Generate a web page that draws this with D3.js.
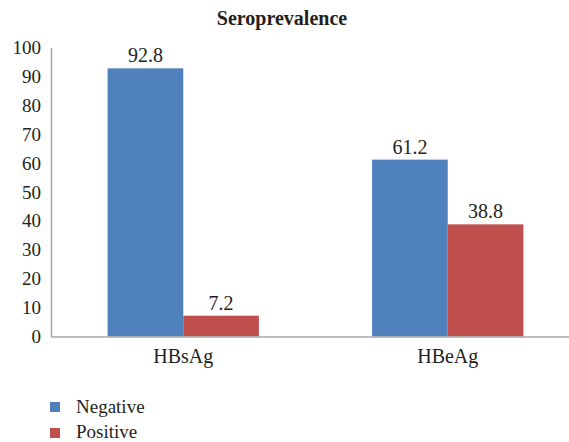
<!DOCTYPE html>
<html><head><meta charset="utf-8">
<script src="https://cdn.jsdelivr.net/npm/d3@7"></script>
</head><body style="margin:0">
<script>
const categories = ["HBsAg", "HBeAg"];
const seriesNames = ["Negative", "Positive"];
const negativeValues = [92.8, 61.2];
const positiveValues = [7.2, 38.8];
const yTicks = [0,10,20,30,40,50,60,70,80,90,100];
const colors = ["#4F81BD", "#C0504D"];
const title = "Seroprevalence";

const W = 569, H = 442;
const FONT = '"Liberation Serif"';
const svg = d3.select("body").append("svg").attr("width", W).attr("height", H)
  .style("display","block").style("font-family", FONT);
const textColor = "#231f20";

const y = d3.scaleLinear().domain([0,100]).range([336.5, 47.5]);
const x0 = d3.scaleBand().domain(categories).range([51, 580]).paddingInner(0.428).paddingOuter(0.214);
const x1 = d3.scaleBand().domain(seriesNames).range([0, x0.bandwidth()]);

const values = [negativeValues, positiveValues];

// title
svg.append("text").attr("x", 282).attr("y", 25).attr("text-anchor","middle")
  .style("font-family", FONT).style("font-weight","bold").style("font-size", "20px").style("fill", textColor).text(title);

// bars
seriesNames.forEach((s, si) => {
  const g = svg.append("g");
  g.selectAll("rect").data(categories).join("rect")
    .attr("x", d => x0(d) + x1(s))
    .attr("y", (d,i) => y(values[si][i]))
    .attr("width", x1.bandwidth())
    .attr("height", (d,i) => y(0) - y(values[si][i]))
    .attr("fill", colors[si]);
  g.selectAll("text").data(categories).join("text")
    .attr("x", d => x0(d) + x1(s) + x1.bandwidth()/2)
    .attr("y", (d,i) => y(values[si][i]) - 6)
    .attr("text-anchor","middle")
    .style("font-family", FONT).style("font-size", "20px").style("fill", textColor)
    .text((d,i) => values[si][i].toFixed(1));
});

// y axis
const yAxis = svg.append("g").attr("transform", "translate(51,0)")
  .call(d3.axisLeft(y).tickValues(yTicks).tickSize(0).tickPadding(10));
yAxis.attr("font-family", null).attr("font-size", null);
yAxis.select(".domain").attr("stroke", "#a6a6a6").attr("stroke-width", 1.5);
yAxis.selectAll("text").style("font-family", FONT).style("font-size", "19px").style("fill", textColor);

// x axis
const xAxis = svg.append("g").attr("transform", `translate(0,${y(0)})`)
  .call(d3.axisBottom(x0).tickSize(0).tickPadding(12));
xAxis.attr("font-family", null).attr("font-size", null);
xAxis.select(".domain").attr("stroke", "#a6a6a6").attr("stroke-width", 1.5);
xAxis.selectAll("text").style("font-family", FONT).style("font-size", "20px").style("fill", textColor);

// legend
const leg = svg.append("g");
seriesNames.forEach((s, i) => {
  leg.append("rect").attr("x", 50).attr("y", 402 + i*26).attr("width", 10).attr("height", 10).attr("fill", colors[i]);
  leg.append("text").attr("x", 76).attr("y", 413 + i*25)
    .style("font-family", FONT).style("font-size", "19px").style("fill", textColor).text(s);
});
</script>
</body></html>
